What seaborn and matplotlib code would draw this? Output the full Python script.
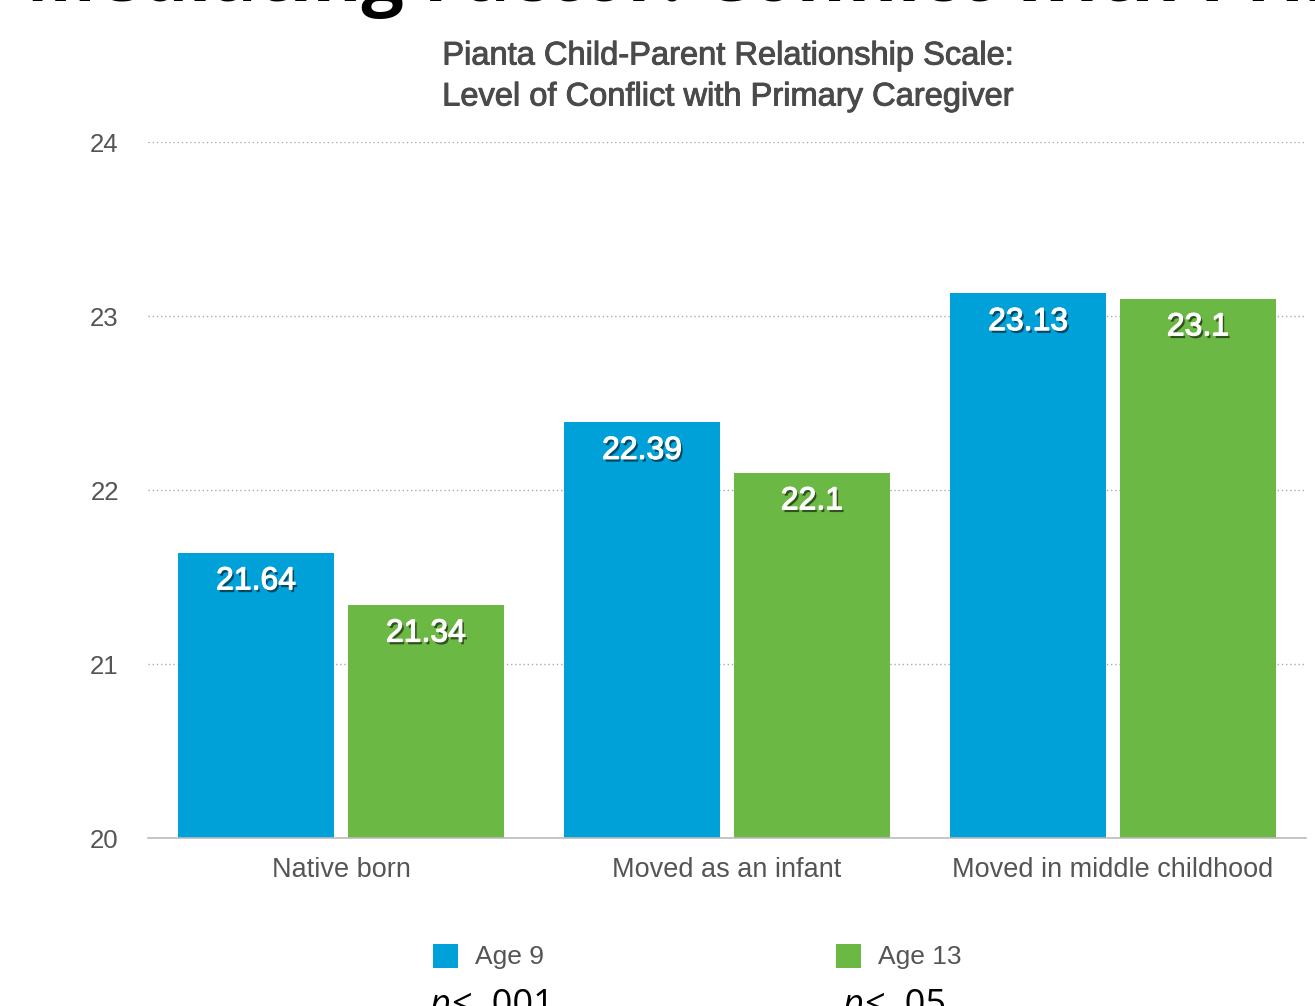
import matplotlib
matplotlib.use("Agg")
import matplotlib.pyplot as plt
import matplotlib.patheffects as pe
from matplotlib.patches import Rectangle
import seaborn as sns
import pandas as pd

categories = ["Native born", "Moved as an infant", "Moved in middle childhood"]
series_names = ["Age 9", "Age 13"]
age9 = [21.64, 22.39, 23.13]
age13 = [21.34, 22.10, 23.10]
value_labels9 = ["21.64", "22.39", "23.13"]
value_labels13 = ["21.34", "22.1", "23.1"]
yticks = [20, 21, 22, 23, 24]
colors = ["#00A0D8", "#6CB844"]

sns.set_theme(style="white")
plt.rcParams["font.family"] = ["Liberation Sans", "DejaVu Sans"]

df = pd.DataFrame({
    "category": categories * 2,
    "series": [series_names[0]] * 3 + [series_names[1]] * 3,
    "value": age9 + age13,
})

fig = plt.figure(figsize=(13.15, 10.06), dpi=100)
ax = fig.add_axes([148 / 1315, 168 / 1006, 1158 / 1315, 696 / 1006])

sns.barplot(data=df, x="category", y="value", hue="series", palette=colors,
            width=0.88, gap=0.08, ax=ax, legend=False, saturation=1,
            edgecolor="none")

ax.set_ylim(20, 24)
ax.set_xlim(-0.5, 2.5)
ax.set_yticks(yticks)
ax.set_yticklabels([str(t) for t in yticks], fontsize=18.5, color="#555555")
ax.tick_params(axis="y", length=0, pad=21)
ax.tick_params(axis="x", length=0, pad=14, labelsize=19.5, labelcolor="#555555")
ax.set_xlabel("")
ax.set_ylabel("")
for s in ["top", "right", "left"]:
    ax.spines[s].set_visible(False)
ax.spines["bottom"].set_color("#bbbbbb")
ax.spines["bottom"].set_linewidth(1.2)
for t in yticks[1:]:
    ax.axhline(t, color="#aaaaaa", linestyle=(0, (1, 2)), linewidth=1, zorder=0)

labels_all = value_labels9 + value_labels13
for patch, lab in zip(ax.patches, labels_all):
    x = patch.get_x() + patch.get_width() / 2
    top = patch.get_y() + patch.get_height()
    ax.text(x, top - 0.165, lab, ha="center", va="center", fontsize=23,
            color="white",
            path_effects=[pe.withSimplePatchShadow(offset=(1.5, -2), shadow_rgbFace="#000000", alpha=0.55),
                          pe.withStroke(linewidth=0.8, foreground="white")])

title_fx = [pe.withStroke(linewidth=0.7, foreground="#4a4a4a")]
fig.text(728 / 1315, 1 - 56 / 1006, "Pianta Child-Parent Relationship Scale:",
         ha="center", va="center", fontsize=23.5, color="#4a4a4a", path_effects=title_fx)
fig.text(728 / 1315, 1 - 97 / 1006, "Level of Conflict with Primary Caregiver",
         ha="center", va="center", fontsize=23.5, color="#4a4a4a", path_effects=title_fx)

# cut-off slide title at top
fig.text(26 / 1315, 1 - 1 / 1006, "Mediating Factor: Conflict with Primary Caregiver",
         ha="left", va="baseline", fontsize=54, fontweight="bold", color="black",
         family=["Open Sans", "DejaVu Sans"])

# legend
for name, col, lx in [(series_names[0], colors[0], 433), (series_names[1], colors[1], 836)]:
    fig.patches.append(Rectangle((lx / 1315, 1 - 968 / 1006), 25 / 1315, 24 / 1006,
                                 transform=fig.transFigure, facecolor=col, edgecolor="none"))
    fig.text((lx + 42) / 1315, 1 - 957 / 1006, name, ha="left", va="center",
             fontsize=19, color="#555555")

# cut-off p values at bottom
for px, rest in [(430, "< .001"), (843, "< .05")]:
    fig.text(px / 1315, 1 - 1015 / 1006, "p", ha="left", va="baseline",
             fontsize=26, style="italic", color="black", family=["Open Sans", "DejaVu Sans"])
    fig.text((px + 22) / 1315, 1 - 1015 / 1006, rest, ha="left", va="baseline",
             fontsize=26, color="black", family=["Open Sans", "DejaVu Sans"])

fig.savefig("out.png", dpi=100)
